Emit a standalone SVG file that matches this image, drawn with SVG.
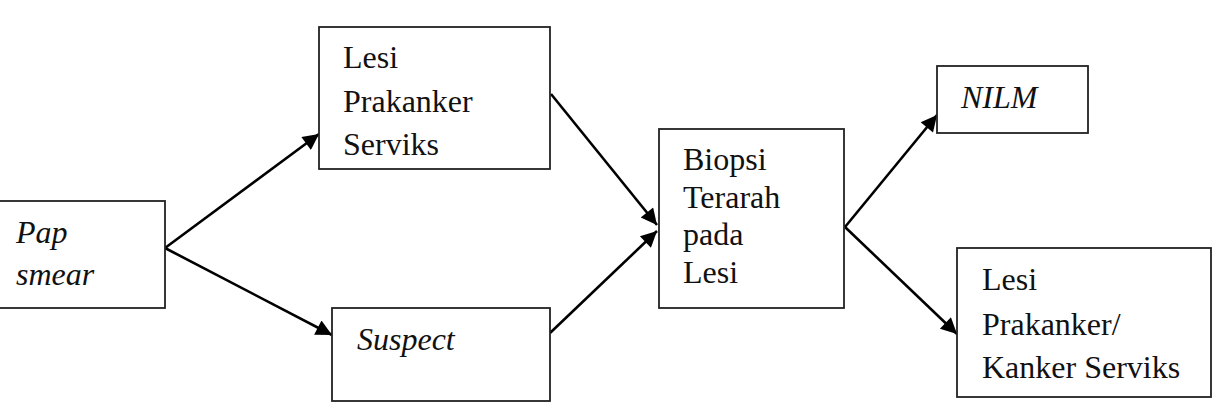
<svg xmlns="http://www.w3.org/2000/svg" width="1216" height="410" viewBox="0 0 1216 410">
<style>
.box{fill:#fff;stroke:#222;stroke-width:1.8}
.t{font-family:"Liberation Serif","Times New Roman",serif;font-size:32px;fill:#111}
.i{font-style:italic}
.c{stroke:#000;stroke-width:2.6;fill:none;marker-end:url(#ah)}
</style>
<defs>
<marker id="ah" viewBox="0 0 10 10" refX="10" refY="5" markerUnits="userSpaceOnUse" markerWidth="21" markerHeight="16" orient="auto">
<path d="M0,0 L10,5 L0,10 Z" fill="#000"/>
</marker>
</defs>
<rect width="1216" height="410" fill="#fff"/>
<g id="connectors">
<line class="c" x1="165" y1="248" x2="319" y2="134"/>
<line class="c" x1="165" y1="248" x2="332" y2="335"/>
<line class="c" x1="551" y1="94" x2="657" y2="225"/>
<line class="c" x1="550" y1="333" x2="657" y2="231"/>
<line class="c" x1="845" y1="227" x2="937" y2="115"/>
<line class="c" x1="845" y1="227" x2="957" y2="334"/>
</g>
<g id="pap">
<rect class="box" x="-2" y="201" width="167" height="107"/>
<text class="t i" x="16" y="243">Pap</text>
<text class="t i" x="16" y="285">smear</text>
</g>
<g id="lesi">
<rect class="box" x="319" y="27" width="231" height="142"/>
<text class="t" x="343" y="68">Lesi</text>
<text class="t" x="343" y="112">Prakanker</text>
<text class="t" x="343" y="155">Serviks</text>
</g>
<g id="suspect">
<rect class="box" x="332" y="308" width="218" height="93"/>
<text class="t i" x="357" y="350">Suspect</text>
</g>
<g id="biopsi">
<rect class="box" x="659" y="129" width="185" height="179"/>
<text class="t" x="683" y="170">Biopsi</text>
<text class="t" x="683" y="208">Terarah</text>
<text class="t" x="683" y="245">pada</text>
<text class="t" x="683" y="283">Lesi</text>
</g>
<g id="nilm">
<rect class="box" x="937" y="66" width="151" height="67"/>
<text class="t i" x="961" y="108">NILM</text>
</g>
<g id="kanker">
<rect class="box" x="957" y="248" width="254" height="149"/>
<text class="t" x="982" y="290">Lesi</text>
<text class="t" x="982" y="335">Prakanker/</text>
<text class="t" x="982" y="378">Kanker Serviks</text>
</g>
</svg>
